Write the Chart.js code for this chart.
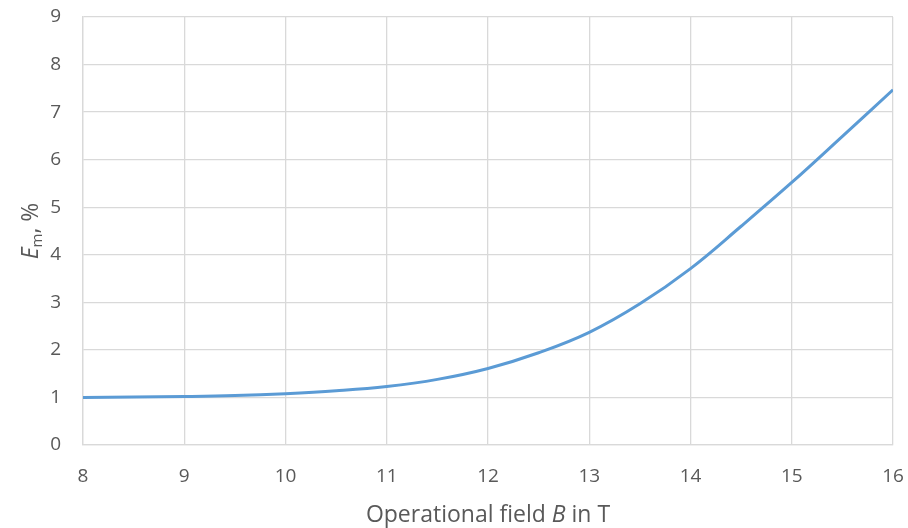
<!DOCTYPE html>
<html lang="en">
<head>
    <meta charset="UTF-8">
    <title>Em vs operational field</title>
    <script src="https://cdn.jsdelivr.net/npm/chart.js"></script>
    <style>
        body {
            margin: 0;
            padding: 0;
            background-color: #fff;
        }

        .chart-container {
            position: relative;
            width: 908px;
            height: 528px;
        }
    </style>
</head>
<body>
    <div class="chart-container">
        <canvas id="emChart"></canvas>
    </div>

    <script>
        // Values
        const fieldB = [8, 8.5, 9, 9.5, 10, 10.5, 11, 11.5, 12, 12.5, 13, 13.5, 14, 14.5, 15, 15.5, 16];
        const emPercent = [1.00, 1.01, 1.02, 1.04, 1.08, 1.14, 1.23, 1.38, 1.61, 1.94, 2.37, 2.97, 3.71, 4.60, 5.52, 6.49, 7.47];

        const fontFamily = "'Open Sans', 'Noto Sans', sans-serif";
        const textColor = '#595959';
        const gridColor = '#d9d9d9';

        // Axis titles need italic symbols and a subscript, so draw them by hand
        const axisTitles = {
            id: 'axisTitles',
            afterDraw(chart) {
                const ctx = chart.ctx;
                const area = chart.chartArea;
                ctx.save();
                ctx.fillStyle = textColor;
                ctx.textBaseline = 'alphabetic';

                // x title: "Operational field B in T"
                const parts = [
                    { t: 'Operational field ', f: '23px ' + fontFamily },
                    { t: 'B', f: 'italic 23px ' + fontFamily },
                    { t: ' in T', f: '23px ' + fontFamily }
                ];
                let total = 0;
                parts.forEach(p => { ctx.font = p.f; p.w = ctx.measureText(p.t).width; total += p.w; });
                let x = (area.left + area.right) / 2 - total / 2;
                parts.forEach(p => { ctx.font = p.f; ctx.fillText(p.t, x, 522); x += p.w; });

                // y title: "Em, %" rotated
                ctx.translate(38, (area.top + area.bottom) / 2);
                ctx.rotate(-Math.PI / 2);
                const yParts = [
                    { t: 'E', f: 'italic 23px ' + fontFamily, dy: 0 },
                    { t: 'm', f: '15px ' + fontFamily, dy: 4 },
                    { t: ', %', f: '23px ' + fontFamily, dy: 0 }
                ];
                total = 0;
                yParts.forEach(p => { ctx.font = p.f; p.w = ctx.measureText(p.t).width; total += p.w; });
                x = -total / 2;
                yParts.forEach(p => { ctx.font = p.f; ctx.fillText(p.t, x, p.dy); x += p.w; });
                ctx.restore();
            }
        };

        const ctx = document.getElementById('emChart').getContext('2d');
        const emChart = new Chart(ctx, {
            type: 'line',
            data: {
                labels: fieldB,
                datasets: [{
                    data: fieldB.map((b, i) => ({ x: b, y: emPercent[i] })),
                    borderColor: '#5b9bd5',
                    borderWidth: 3,
                    pointRadius: 0,
                    tension: 0.4,
                    fill: false
                }]
            },
            options: {
                responsive: true,
                maintainAspectRatio: false,
                animation: false,
                layout: {
                    padding: { top: 17, right: 15, left: 0, bottom: 0 }
                },
                plugins: {
                    legend: { display: false },
                    tooltip: { enabled: false }
                },
                scales: {
                    x: {
                        type: 'linear',
                        min: 8,
                        max: 16,
                        ticks: {
                            stepSize: 1,
                            color: textColor,
                            padding: 20,
                            font: { family: fontFamily, size: 19 }
                        },
                        grid: { color: gridColor, lineWidth: 1.3, drawTicks: false },
                        border: { color: gridColor, width: 1.3 },
                        afterFit(scale) {
                            scale.height = 83;
                            // let end labels hang over the padding
                            scale.paddingLeft = 0;
                            scale.paddingRight = 0;
                        }
                    },
                    y: {
                        min: 0,
                        max: 9,
                        ticks: {
                            stepSize: 1,
                            color: textColor,
                            padding: 22,
                            font: { family: fontFamily, size: 19 }
                        },
                        grid: { color: gridColor, lineWidth: 1.3, drawTicks: false },
                        border: { color: gridColor, width: 1.3 },
                        afterFit(scale) {
                            scale.width = 83;
                            scale.paddingTop = 0;
                            scale.paddingBottom = 0;
                        }
                    }
                }
            },
            plugins: [axisTitles]
        });
    </script>
</body>
</html>
